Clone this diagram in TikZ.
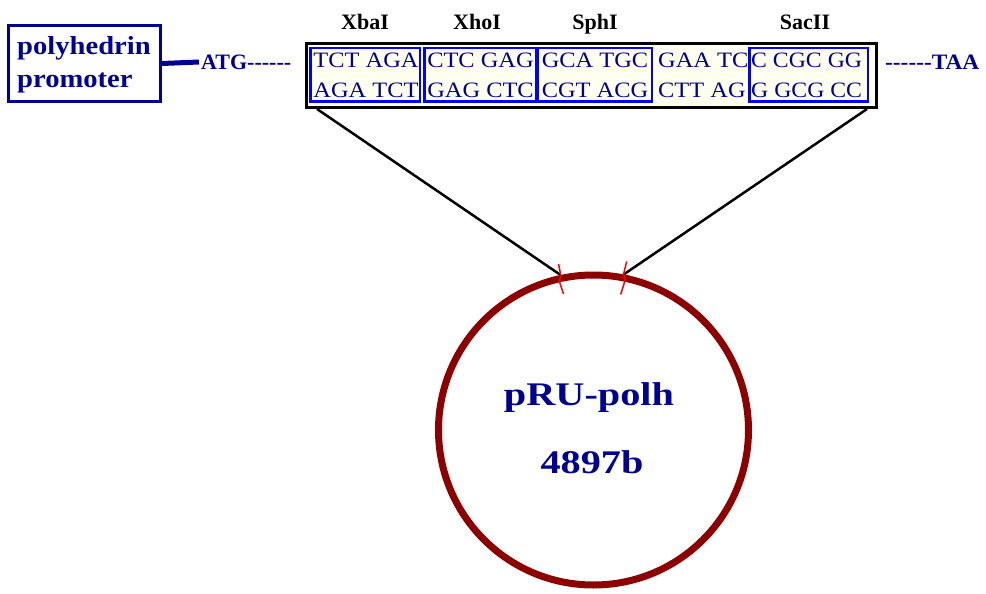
\documentclass[tikz,border=0pt]{standalone}
\usepackage{fontspec}
\setmainfont{Liberation Serif}
\usepackage{graphicx}
\definecolor{navy}{RGB}{0,0,145}
\definecolor{siteblue}{RGB}{0,0,255}
\definecolor{plasmidred}{RGB}{140,0,0}
\definecolor{cream}{RGB}{255,255,240}
\definecolor{cutred}{RGB}{255,0,0}
% horizontal stretch of a piece of text
\newcommand{\hstretch}[2]{\scalebox{#1}[1]{#2}}
% a single hyphen that never joins into a dash ligature
\newcommand{\hy}{\mbox{-}}
\newcommand{\hyrun}{\hy\hy\hy\hy\hy\hy}
\begin{document}
\begin{tikzpicture}[x=1pt,y=-1pt,
  promtext/.style={text=navy,font=\bfseries\fontsize{26}{26}\selectfont,inner sep=0,anchor=base west},
  flank/.style={text=navy,font=\bfseries\fontsize{22}{22}\selectfont,inner sep=0,anchor=west},
  seqtext/.style={text=navy,font=\fontsize{22}{22}\selectfont,inner sep=0,anchor=base},
  enzyme/.style={text=black,font=\bfseries\fontsize{22}{22}\selectfont,inner sep=0,anchor=base},
  sitebox/.style={draw=siteblue,line width=2.5,inner sep=0,minimum height=53.5},
  link/.style={draw=black,line width=2.5},
  cut/.style={draw=cutred,line width=1.5},
  plasmidtext/.style={text=navy,font=\bfseries\fontsize{33}{33}\selectfont,inner sep=0,anchor=base}]
\useasboundingbox (0,0) rectangle (986,594);

% promoter box
\node[draw=navy,line width=3,minimum width=152,minimum height=76,inner sep=0,fill=white] (prom) at (84.5,63.5) {};
\node[promtext] (promA) at (17,55) {\hstretch{1.1}{polyhedrin}};
\node[promtext] (promB) at (17,88) {\hstretch{1.1}{promoter}};
\node[flank] (atg) at (201,62) {ATG\hyrun};
\draw[navy,line width=5] (prom.east) -- ([xshift=-2pt]atg.west);

% multiple cloning site
\node[draw=black,line width=3,fill=cream,minimum width=570,minimum height=64,inner sep=0] (seq) at (591.5,75.5) {};
\node[sitebox,minimum width=109.5] (xba) at (365,75) {};
\node[sitebox,minimum width=111.5] (xho) at (480,75) {};
\node[sitebox,minimum width=114.5] (sph) at (594.5,75) {};
\node[sitebox,minimum width=118.5] (sac) at (808.5,75) {};

\node[seqtext] (t1) at (366,68) {\hstretch{1.11}{TCT AGA}};
\node[seqtext] (t2) at (480.5,68) {\hstretch{1.11}{CTC GAG}};
\node[seqtext] (t3) at (595,68) {\hstretch{1.11}{GCA TGC}};
\node[seqtext,anchor=base west] (t4) at (658,68) {\hstretch{1.11}{GAA TC}};
\node[seqtext,anchor=base west] (t5) at (751,68) {\hstretch{1.08}{C CGC GG}};
\node[seqtext] (b1) at (366,97) {\hstretch{1.11}{AGA TCT}};
\node[seqtext] (b2) at (480.5,97) {\hstretch{1.11}{GAG CTC}};
\node[seqtext] (b3) at (595,97) {\hstretch{1.11}{CGT ACG}};
\node[seqtext,anchor=base west] (b4) at (658,97) {\hstretch{1.11}{CTT AG}};
\node[seqtext,anchor=base west] (b5) at (751,97) {\hstretch{1.08}{G GCG CC}};

\node[enzyme] (lxba) at (365,30) {XbaI};
\node[enzyme] (lxho) at (477,30) {XhoI};
\node[enzyme] (lsph) at (595,30) {SphI};
\node[enzyme] (lsac) at (805,30) {SacII};

\node[flank] (taa) at (885,62) {\hstretch{1.06}{\hyrun TAA}};

% plasmid
\node[circle,draw=plasmidred,line width=7,minimum size=310,inner sep=0,fill=white] (plasmid) at (593.5,430) {};
\node[plasmidtext] (pname) at (589,405) {\hstretch{1.22}{pRU-polh}};
\node[plasmidtext] (psize) at (592,473) {\hstretch{1.22}{4897b}};

% insertion lines
\coordinate (linkL) at ([xshift=12pt]seq.south west);
\coordinate (linkR) at ([xshift=-11pt]seq.south east);
\draw[link] (linkL) -- (plasmid.102);
\draw[link] (linkR) -- (plasmid.79);

% cut marks on the plasmid
\draw[cut] ([shift={(-2,-11)}]plasmid.102) -- ([shift={(0,-1)}]plasmid.102) -- ([shift={(-1,7)}]plasmid.102) -- ([shift={(3,19)}]plasmid.102);
\draw[cut] ([shift={(3,-13)}]plasmid.79) -- ([shift={(0,-1)}]plasmid.79) -- ([shift={(1,7)}]plasmid.79) -- ([shift={(-3,20)}]plasmid.79);
\end{tikzpicture}
\end{document}
